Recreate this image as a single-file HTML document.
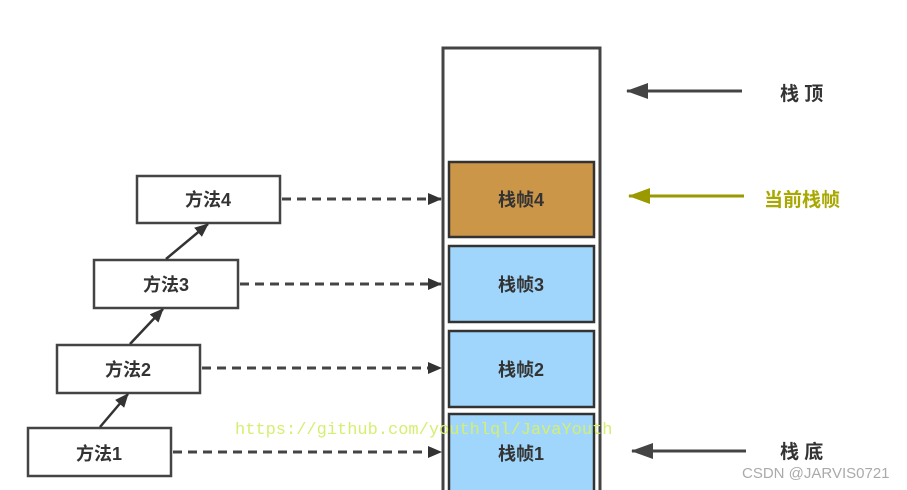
<!DOCTYPE html>
<html><head><meta charset="utf-8"><style>
body{margin:0;width:907px;height:490px;background:#fff;overflow:hidden;position:relative}
.t{font-family:"Liberation Sans","Noto Sans CJK SC",sans-serif;font-weight:bold;}
</style></head><body>
<svg width="907" height="490" viewBox="0 0 907 490" xmlns="http://www.w3.org/2000/svg" style="position:absolute;left:0;top:0">
<defs>
<marker id="a" markerWidth="10" markerHeight="8" refX="9" refY="4" orient="auto" markerUnits="userSpaceOnUse"><path d="M0,0 L10,4 L0,8z" fill="#333"/></marker>
<marker id="b" markerWidth="14" markerHeight="12" refX="13" refY="6" orient="auto" markerUnits="userSpaceOnUse"><path d="M0,0 L14,6 L0,12z" fill="#333"/></marker>
<marker id="c" markerWidth="22" markerHeight="16" refX="21" refY="8" orient="auto" markerUnits="userSpaceOnUse"><path d="M0,0 L22,8 L0,16z" fill="#444"/></marker>
<marker id="d" markerWidth="22" markerHeight="16" refX="21" refY="8" orient="auto" markerUnits="userSpaceOnUse"><path d="M0,0 L22,8 L0,16z" fill="#9a9a00"/></marker>
</defs>
<g fill="none" stroke="#444" stroke-width="3">
<rect x="443" y="48" width="157" height="445"/>
</g>
<g stroke="#333" stroke-width="2.5">
<rect x="449" y="162" width="145" height="75" fill="#cc9648"/>
<rect x="449" y="246" width="145" height="76" fill="#a0d6fc"/>
<rect x="449" y="331" width="145" height="76" fill="#a0d6fc"/>
<rect x="449" y="414" width="145" height="80" fill="#a0d6fc"/>
</g>
<g stroke="#444" stroke-width="2.5" fill="#fff">
<rect x="137" y="176" width="143" height="47"/>
<rect x="94" y="260" width="144" height="48"/>
<rect x="57" y="345" width="143" height="48"/>
<rect x="28" y="428" width="143" height="48"/>
</g>
<g stroke="#444" stroke-width="3" stroke-dasharray="9,6" marker-end="url(#b)">
<line x1="282" y1="199" x2="441" y2="199"/>
<line x1="240" y1="284" x2="441" y2="284"/>
<line x1="202" y1="368" x2="441" y2="368"/>
<line x1="173" y1="452" x2="441" y2="452"/>
</g>
<g stroke="#333" stroke-width="2.5" marker-end="url(#b)">
<line x1="100" y1="427" x2="128" y2="394"/>
<line x1="130" y1="344" x2="163" y2="309"/>
<line x1="166" y1="259" x2="208" y2="224"/>
</g>
<line x1="742" y1="91" x2="627" y2="91" stroke="#444" stroke-width="3" marker-end="url(#c)"/>
<line x1="744" y1="196" x2="629" y2="196" stroke="#9a9a00" stroke-width="3" marker-end="url(#d)"/>
<line x1="746" y1="451" x2="632" y2="451" stroke="#444" stroke-width="3" marker-end="url(#c)"/>
<g class="t" font-size="18" fill="#333" text-anchor="middle">
<text x="208" y="206">方法4</text>
<text x="166" y="291">方法3</text>
<text x="128" y="376">方法2</text>
<text x="99" y="460">方法1</text>
<text x="521" y="206">栈帧4</text>
<text x="521" y="291">栈帧3</text>
<text x="521" y="376">栈帧2</text>
<text x="521" y="460">栈帧1</text>
</g>
<g class="t" font-size="19" fill="#333">
<text x="780" y="100">栈 顶</text>
<text x="780" y="458">栈 底</text>
<text x="764" y="206" fill="#a8a800">当前栈帧</text>
</g>
<text x="235" y="434" font-family="Liberation Mono,monospace" font-size="17" fill="#d4ef70">https://github.com/youthlql/JavaYouth</text>
<text x="742" y="478" font-family="Liberation Sans,sans-serif" font-size="15" fill="#aaa">CSDN @JARVIS0721</text>
</svg>
</body></html>
